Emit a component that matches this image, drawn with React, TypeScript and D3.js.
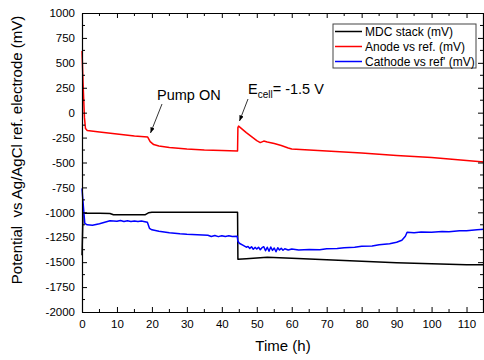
import React, { useRef, useEffect } from 'react';
import * as d3 from 'd3';

type Pt = [number, number];

// MDC stack (mV)
const stackSeries: Pt[] = [
  [0, -1430], [0.3, -1010], [5, -1010], [8, -1012], [9, -1025], [18, -1025], [19, -1005],
  [20, -1000], [44.5, -1000], [44.6, -1470], [47, -1465], [53, -1450], [60, -1460],
  [70, -1475], [80, -1490], [90, -1505], [100, -1515], [110, -1525], [115, -1525],
];

// Anode vs ref. (mV)
const anodeSeries: Pt[] = [
  [0, 620], [0.3, 300], [0.7, -50], [1, -160], [1.5, -180], [5, -195], [10, -215], [15, -235],
  [18.8, -245], [19.5, -290], [20.5, -320], [22, -335], [25, -350], [30, -365], [35, -375],
  [40, -380], [44.5, -385], [44.6, -150], [44.8, -135], [47, -200], [50, -280], [51, -300],
  [52, -285], [53, -295], [55, -310], [57, -330], [59, -355], [60, -365], [70, -385],
  [80, -405], [90, -430], [95, -440], [100, -450], [110, -480], [115, -495],
];

// Cathode vs ref' (mV)
const cathodeSeries: Pt[] = [
  [0, -760], [0.3, -900], [0.8, -1110], [1.5, -1125], [3, -1130], [5, -1115], [7, -1095],
  [8, -1085], [10, -1090], [11, -1082], [12, -1092], [13, -1085], [14, -1093], [15, -1086],
  [16, -1092], [17, -1088], [18, -1095], [18.7, -1100], [19.3, -1160], [20, -1175],
  [22, -1190], [25, -1205], [28, -1215], [30, -1220], [33, -1225], [36, -1230], [37, -1242],
  [38, -1232], [39, -1244], [40, -1234], [41, -1242], [42, -1236], [43, -1243], [44.4, -1240],
  [44.6, -1290], [45, -1310], [46, -1330], [47, -1350], [47.5, -1342], [48, -1362],
  [48.5, -1345], [49, -1370], [49.5, -1352], [50, -1368], [50.5, -1350], [51, -1375],
  [51.5, -1355], [52, -1345], [52.5, -1385], [53, -1350], [53.5, -1390], [54, -1348],
  [54.5, -1382], [55, -1358], [55.5, -1395], [56, -1355], [56.5, -1378], [57, -1360],
  [57.5, -1380], [58, -1365], [59, -1378], [60, -1368], [62, -1378], [65, -1372],
  [68, -1376], [70, -1365], [73, -1362], [75, -1355], [78, -1350], [80, -1340], [83, -1338],
  [85, -1325], [88, -1315], [90, -1300], [91.5, -1280], [92.5, -1240], [93, -1200],
  [95, -1205], [97, -1198], [100, -1200], [103, -1192], [105, -1195], [108, -1186],
  [110, -1185], [113, -1175], [115, -1170],
];

const seriesNames = ['MDC stack (mV)', 'Anode vs ref. (mV)', "Cathode vs ref' (mV)"];
const seriesColors = ['#000000', '#ff0000', '#0000ff'];
const xTicks = d3.range(0, 111, 10);
const yTicks = d3.range(-2000, 1001, 250);

const App: React.FC = () => {
  const svgRef = useRef<SVGSVGElement>(null);
  const width = 484;
  const height = 360;

  useEffect(() => {
    if (!svgRef.current) return;
    const svg = d3.select(svgRef.current);
    svg.selectAll('*').remove();

    const left = 82, right = 484, top = 13, bottom = 312;
    const x = d3.scaleLinear().domain([0, 115]).range([left, right]);
    const y = d3.scaleLinear().domain([-2000, 1000]).range([bottom, top]);
    const font = 'Liberation Sans, Arial, sans-serif';
    const plain = (d: d3.NumberValue) => String(+d);

    const defs = svg.append('defs');
    defs.append('marker')
      .attr('id', 'arrow')
      .attr('viewBox', '0 0 10 10')
      .attr('refX', 10).attr('refY', 5)
      .attr('markerWidth', 7).attr('markerHeight', 7)
      .attr('orient', 'auto')
      .append('path')
      .attr('d', 'M0,1 L10,5 L0,9 Z')
      .attr('fill', '#000');

    // data lines
    const line = d3.line<Pt>().x(d => x(d[0])).y(d => y(d[1]));
    [stackSeries, anodeSeries, cathodeSeries].forEach((s, i) => {
      svg.append('path')
        .datum(s)
        .attr('d', line)
        .attr('fill', 'none')
        .attr('stroke', seriesColors[i])
        .attr('stroke-width', 1.5)
        .attr('stroke-linejoin', 'round');
    });

    // axes (ticks inward)
    const styleAxis = (g: d3.Selection<SVGGElement, unknown, null, undefined>) => {
      g.select('.domain').attr('stroke', '#000').attr('stroke-width', 1.2);
      g.selectAll('.tick line').attr('stroke', '#000');
      g.selectAll('text').attr('font-family', font).attr('font-size', '11.5px').attr('fill', '#000');
    };

    svg.append('g')
      .attr('transform', `translate(0,${bottom})`)
      .call(d3.axisBottom(x).tickValues(xTicks).tickSizeInner(-5).tickSizeOuter(0).tickPadding(8).tickFormat(plain))
      .call(styleAxis);
    svg.append('g')
      .attr('transform', `translate(0,${top})`)
      .call(d3.axisTop(x).tickValues(xTicks).tickSizeInner(-5).tickSizeOuter(0).tickFormat(() => ''))
      .call(styleAxis);
    svg.append('g')
      .attr('transform', `translate(${left},0)`)
      .call(d3.axisLeft(y).tickValues(yTicks).tickSizeInner(-5).tickSizeOuter(0).tickPadding(7).tickFormat(plain))
      .call(styleAxis);
    svg.append('g')
      .attr('transform', `translate(${right - 1},0)`)
      .call(d3.axisRight(y).tickValues(yTicks).tickSizeInner(-5).tickSizeOuter(0).tickFormat(() => ''))
      .call(styleAxis);

    // minor ticks
    const xMinor = d3.range(5, 115, 10);
    const yMinor = d3.range(-1875, 1000, 250);
    xMinor.forEach(v => {
      svg.append('line').attr('x1', x(v)).attr('x2', x(v)).attr('y1', bottom).attr('y2', bottom - 3).attr('stroke', '#000');
      svg.append('line').attr('x1', x(v)).attr('x2', x(v)).attr('y1', top).attr('y2', top + 3).attr('stroke', '#000');
    });
    yMinor.forEach(v => {
      svg.append('line').attr('x1', left).attr('x2', left + 3).attr('y1', y(v)).attr('y2', y(v)).attr('stroke', '#000');
      svg.append('line').attr('x1', right - 1).attr('x2', right - 4).attr('y1', y(v)).attr('y2', y(v)).attr('stroke', '#000');
    });

    // axis titles
    svg.append('text')
      .attr('x', (left + right) / 2)
      .attr('y', 351)
      .attr('text-anchor', 'middle')
      .attr('font-family', font)
      .attr('font-size', '15px')
      .text('Time (h)');

    svg.append('text')
      .attr('transform', 'rotate(-90)')
      .attr('x', -150)
      .attr('y', 22)
      .attr('text-anchor', 'middle')
      .attr('font-family', font)
      .attr('font-size', '15px')
      .attr('xml:space', 'preserve')
      .text('Potential  vs Ag/AgCl ref. electrode (mV)');

    // annotations
    svg.append('text')
      .attr('x', 157)
      .attr('y', 100)
      .attr('font-family', font)
      .attr('font-size', '14.5px')
      .text('Pump ON');
    svg.append('line')
      .attr('x1', 162).attr('y1', 104)
      .attr('x2', 150.5).attr('y2', 133)
      .attr('stroke', '#000').attr('stroke-width', 0.8)
      .attr('marker-end', 'url(#arrow)');

    const ecell = svg.append('text')
      .attr('x', 248)
      .attr('y', 94)
      .attr('font-family', font)
      .attr('font-size', '14.5px');
    ecell.append('tspan').text('E');
    ecell.append('tspan').attr('font-size', '10px').attr('dy', 4).text('cell');
    ecell.append('tspan').attr('dy', -4).text('= -1.5 V');
    svg.append('line')
      .attr('x1', 248).attr('y1', 99)
      .attr('x2', 239.5).attr('y2', 121)
      .attr('stroke', '#000').attr('stroke-width', 0.8)
      .attr('marker-end', 'url(#arrow)');

    // legend
    const legend = svg.append('g').attr('transform', 'translate(333,24)');
    legend.append('rect')
      .attr('width', 143)
      .attr('height', 44)
      .attr('fill', '#fff')
      .attr('stroke', '#444')
      .attr('stroke-width', 1);
    seriesNames.forEach((name, i) => {
      const cy = 7.5 + i * 15;
      legend.append('line')
        .attr('x1', 2).attr('x2', 29)
        .attr('y1', cy).attr('y2', cy)
        .attr('stroke', seriesColors[i])
        .attr('stroke-width', 1.5);
      legend.append('text')
        .attr('x', 32)
        .attr('y', cy + 4.5)
        .attr('font-family', font)
        .attr('font-size', '12px')
        .text(name);
    });
  }, []);

  return (
    <svg
      ref={svgRef}
      width={width}
      height={height}
      style={{ position: 'absolute', left: 0, top: 0, background: '#fff' }}
    />
  );
};

export default App;
